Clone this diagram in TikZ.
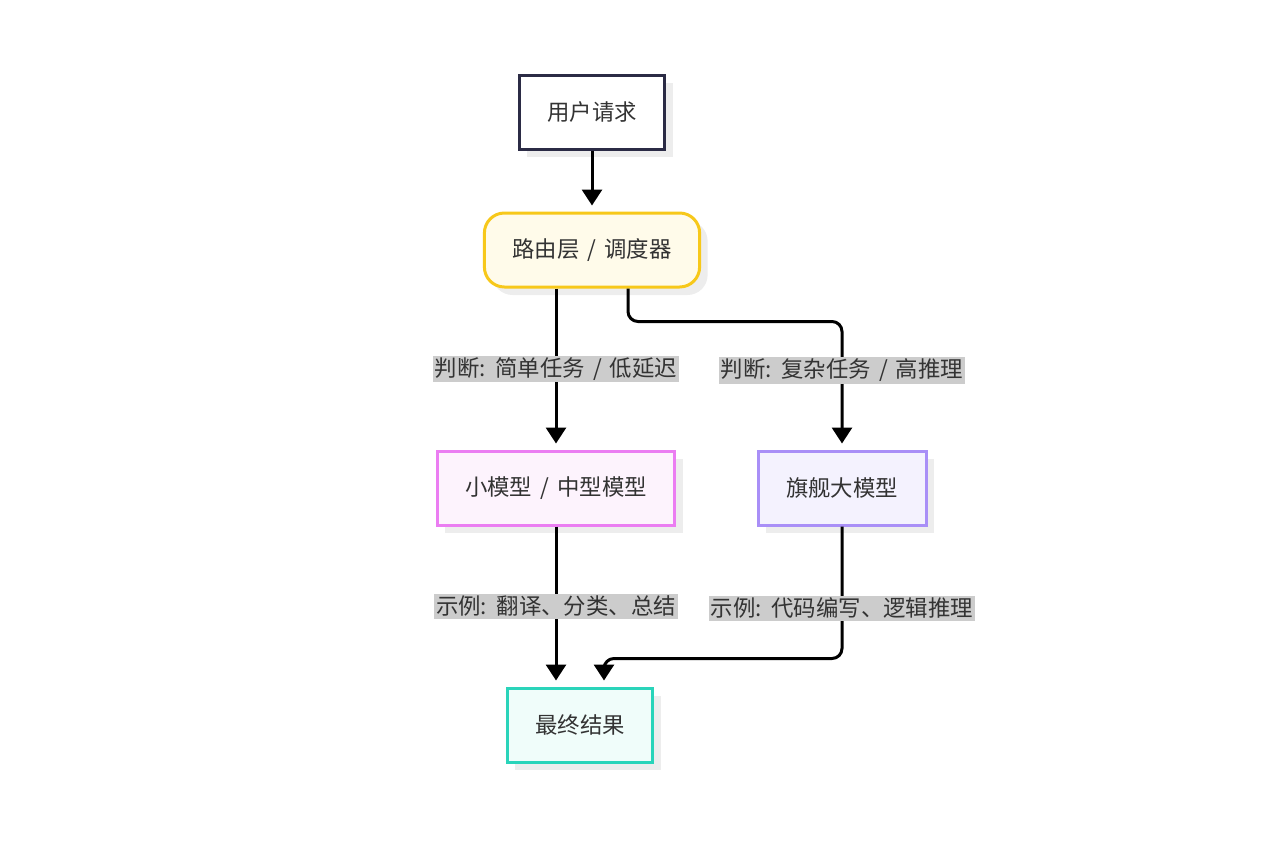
\documentclass[tikz,border=0pt]{standalone}
\usepackage{fontspec}
\usepackage{xcolor}
\usetikzlibrary{arrows.meta,shadows}
\newfontfamily\cjk[WordSpace=1.6]{Noto Sans CJK SC}

\definecolor{txtgrey}{HTML}{333333}
\definecolor{navyline}{HTML}{2B2B45}
\definecolor{goldline}{HTML}{F7C81A}
\definecolor{goldfill}{HTML}{FFFBEA}
\definecolor{pinkline}{HTML}{EB7DF2}
\definecolor{pinkfill}{HTML}{FDF3FD}
\definecolor{violetline}{HTML}{A98FF7}
\definecolor{violetfill}{HTML}{F4F2FE}
\definecolor{tealline}{HTML}{2AD4BA}
\definecolor{tealfill}{HTML}{F0FDFA}
\definecolor{labelgrey}{HTML}{CCCCCC}

\begin{document}
\begin{tikzpicture}[x=0.5pt,y=-0.5pt,>={Triangle[width=10pt,length=8pt]},shorten >=3pt,node distance=119pt,
    flow/.style={->,line width=1.5pt,black},
    base box/.style={rectangle,draw,line width=1.5pt,minimum height=37pt,inner xsep=14pt,text=txtgrey,font=\cjk\fontsize{11.2pt}{13pt}\selectfont,
        drop shadow={shadow xshift=4pt,shadow yshift=-4pt,fill=black!7,opacity=1}},
    plain box/.style={base box,draw=navyline,fill=white},
    router box/.style={base box,draw=goldline,fill=goldfill,rounded corners=10pt},
    small box/.style={base box,draw=pinkline,fill=pinkfill},
    big box/.style={base box,draw=violetline,fill=violetfill},
    result box/.style={base box,draw=tealline,fill=tealfill},
    edge label/.style={fill=labelgrey,sharp corners,text=txtgrey,inner xsep=1pt,inner ysep=1pt,font=\cjk\fontsize{11.2pt}{13pt}\selectfont}]

    \useasboundingbox (0,0) rectangle (1280,867);

    \node[plain box] (req) at (592,112) {用户请求};
    \node[router box] (router) [below of = req, node distance=69pt] {路由层 / 调度器};
    \node[small box] (small) [below of = router, xshift=-18pt] {小模型 / 中型模型};
    \node[big box] (big) [right of = small, node distance=143pt] {旗舰大模型};
    \node[result box] (result) [below of = small, node distance=118.5pt, xshift=12pt] {最终结果};

    \path[flow]
        (req) edge (router)
        (router.south -| small.north) edge node[edge label]{判断: 简单任务 / 低延迟} (small.north)
        (small.south) edge node[edge label]{示例: 翻译、分类、总结} (result.north -| small.south)
    ;
    \draw[flow,rounded corners=5pt] ([xshift=18pt]router.south) -- ++(0,-16.5pt)
        -| node[edge label,pos=0.69]{判断: 复杂任务 / 高推理} (big.north);
    \draw[flow,rounded corners=5pt] (big.south) -- node[edge label,pos=0.62]{示例: 代码编写、逻辑推理} ++(0,-66pt)
        -| ([xshift=12pt]result.north);
\end{tikzpicture}
\end{document}
